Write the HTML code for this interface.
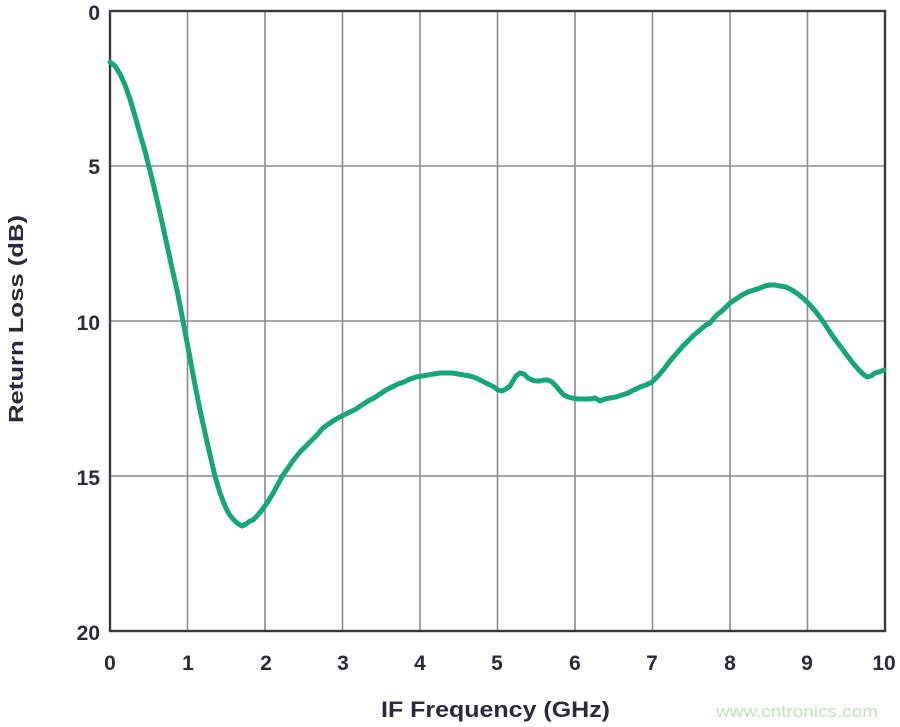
<!DOCTYPE html>
<html>
<head>
<meta charset="utf-8">
<style>
html,body{margin:0;padding:0;background:#fff;}
svg{display:block;}
text{font-family:"Liberation Sans",Arial,sans-serif;}
</style>
</head>
<body>
<svg width="900" height="727" viewBox="0 0 900 727" xmlns="http://www.w3.org/2000/svg">
<rect width="900" height="727" fill="#fff"/>
<g stroke="#8c8c90" stroke-width="1.6">
<line x1="187.5" y1="11" x2="187.5" y2="631"/>
<line x1="265" y1="11" x2="265" y2="631"/>
<line x1="342.5" y1="11" x2="342.5" y2="631"/>
<line x1="420" y1="11" x2="420" y2="631"/>
<line x1="497.5" y1="11" x2="497.5" y2="631"/>
<line x1="575" y1="11" x2="575" y2="631"/>
<line x1="652.5" y1="11" x2="652.5" y2="631"/>
<line x1="730" y1="11" x2="730" y2="631"/>
<line x1="807.5" y1="11" x2="807.5" y2="631"/>
<line x1="110" y1="166" x2="885" y2="166"/>
<line x1="110" y1="321" x2="885" y2="321"/>
<line x1="110" y1="476" x2="885" y2="476"/>
</g>
<rect x="110" y="11" width="775" height="620" fill="none" stroke="#3a3a3e" stroke-width="2.4"/>
<polyline fill="none" stroke="#17a57a" stroke-width="5" stroke-linejoin="round" stroke-linecap="round"
points="110,62 115,66 120,74 125,85 130,99 135,116 140,134 145,151 149,167 153,183 157,200 162,222 167,245 172,268 177,290 183,321 190,358 195,385 200,410 205,433 210,455 215,476 220,493 225,506 229,514 233,519 237,523 242,526 246,524 250,521 253,520 257,516 262,510 267,503 272,495 277,486 283,475 288,468 292,462 296,457 300,452 306,446 312,440 318,434 322,429 327,425 333,421 338,418 344,415 350,412 356,409 362,405 368,401 374,398 380,394 386,390 392,387 398,384 404,382 410,379 416,377 422,376 428,375 434,374 440,373 446,373 452,373 458,374 464,375 470,376 476,378 482,381 488,384 494,387 498,390 502,391 506,389 510,386 513,381 516,376 520,373 524,374 528,378 532,380 536,381 540,381 544,380 548,380 552,382 556,386 560,391 564,395 568,397 572,398 578,399 584,399 590,399 595,398 600,401 605,399 610,398 616,397 622,395 628,393 634,390 640,387 646,385 652,382 658,376 664,369 670,361 676,354 682,347 688,341 694,335 700,330 706,325 710,323 714,318 718,314 722,311 726,307 730,303 736,299 742,295 748,292 754,290 760,288 765,286 770,285 775,285 780,286 786,287 792,290 798,294 804,299 810,305 816,312 822,320 828,329 834,338 840,346 846,354 852,362 858,369 863,374 867,377 871,376 875,373 879,372 884,370"/>
<g font-weight="bold" font-size="21" fill="#2a2a3c" text-anchor="end">
<text x="100" y="20">0</text>
<text x="100" y="174">5</text>
<text x="100" y="330">10</text>
<text x="100" y="485">15</text>
<text x="100" y="640">20</text>
</g>
<g font-weight="bold" font-size="21" fill="#2a2a3c" text-anchor="middle">
<text x="110" y="670">0</text>
<text x="188" y="670">1</text>
<text x="266" y="670">2</text>
<text x="343" y="670">3</text>
<text x="420" y="670">4</text>
<text x="497" y="670">5</text>
<text x="575" y="670">6</text>
<text x="652" y="670">7</text>
<text x="730" y="670">8</text>
<text x="807" y="670">9</text>
<text x="884" y="670">10</text>
</g>
<text x="381" y="717" font-weight="bold" font-size="22" fill="#2a2a3c" textLength="229" lengthAdjust="spacingAndGlyphs">IF Frequency (GHz)</text>
<text transform="translate(23,423) rotate(-90)" font-weight="bold" font-size="20" fill="#2a2a3c" textLength="208" lengthAdjust="spacingAndGlyphs">Return Loss (dB)</text>
<text x="716" y="717" font-size="17" fill="#c3e2bd" textLength="162" lengthAdjust="spacingAndGlyphs">www.cntronics.com</text>
</svg>
</body>
</html>
